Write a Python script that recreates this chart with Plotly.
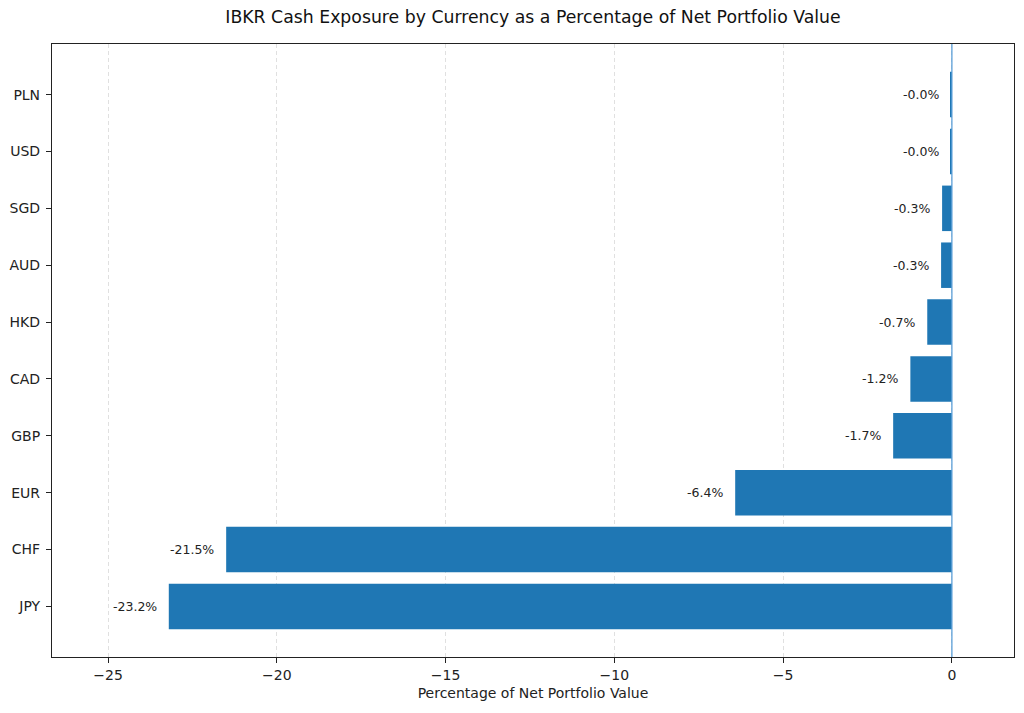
import plotly.graph_objects as go

# Cash exposure per currency, bottom to top as drawn
currencies = ["JPY", "CHF", "EUR", "GBP", "CAD", "HKD", "AUD", "SGD", "USD", "PLN"]
pct_of_nav = [-23.2, -21.5, -6.42, -1.74, -1.23, -0.73, -0.32, -0.29, -0.04, -0.03]
labels = [f"{v:.1f}%" for v in pct_of_nav]
x_ticks = [-25, -20, -15, -10, -5, 0]

font = "DejaVu Sans"
bar_color = "#1f77b4"

fig = go.Figure()
fig.add_trace(go.Bar(
    x=pct_of_nav, y=currencies, orientation="h",
    marker=dict(color=bar_color, line=dict(width=0)),
    width=0.8, showlegend=False, hoverinfo="x+y",
))

# value labels just left of each bar end
for cur, val, lab in zip(currencies, pct_of_nav, labels):
    fig.add_annotation(
        x=val, y=cur, text=lab, showarrow=False,
        xanchor="right", xshift=-10,
        font=dict(family=font, size=12.5, color="#222"),
    )

# zero reference line
fig.add_vline(x=0, line=dict(color="#5b9fd8", width=1.3))

# page body adds an 8px offset, margins compensate for it
fig.update_layout(
    width=1024, height=713,
    paper_bgcolor="white", plot_bgcolor="white",
    margin=dict(l=44, r=18, t=36, b=64),
    title=dict(
        text="IBKR Cash Exposure by Currency as a Percentage of Net Portfolio Value",
        x=525 / 1024, xanchor="center", y=1 - 9 / 713, yanchor="middle",
        font=dict(family=font, size=17.3, color="#111"),
    ),
    font=dict(family=font, size=14, color="#222"),
    bargap=0.2,
)

fig.update_xaxes(
    range=[-26.66, 1.84], tickvals=x_ticks,
    showgrid=True, gridcolor="#e0e0e0", griddash="4px,3px", gridwidth=1,
    zeroline=False, automargin=False,
    showline=True, linecolor="#222", linewidth=1.2, mirror=True,
    ticks="outside", ticklen=5, tickcolor="#222",
    tickfont=dict(family=font, size=14),
    title=dict(text="Percentage of Net Portfolio Value", font=dict(family=font, size=14), standoff=6),
)
fig.update_yaxes(
    range=[-0.89, 9.89], categoryorder="array", categoryarray=currencies,
    showgrid=False, zeroline=False, automargin=False,
    showline=True, linecolor="#222", linewidth=1.2, mirror=True,
    ticks="outside", ticklen=5, tickcolor="#222", ticklabelstandoff=3,
    tickfont=dict(family=font, size=14),
)

fig.write_html("out.html")
